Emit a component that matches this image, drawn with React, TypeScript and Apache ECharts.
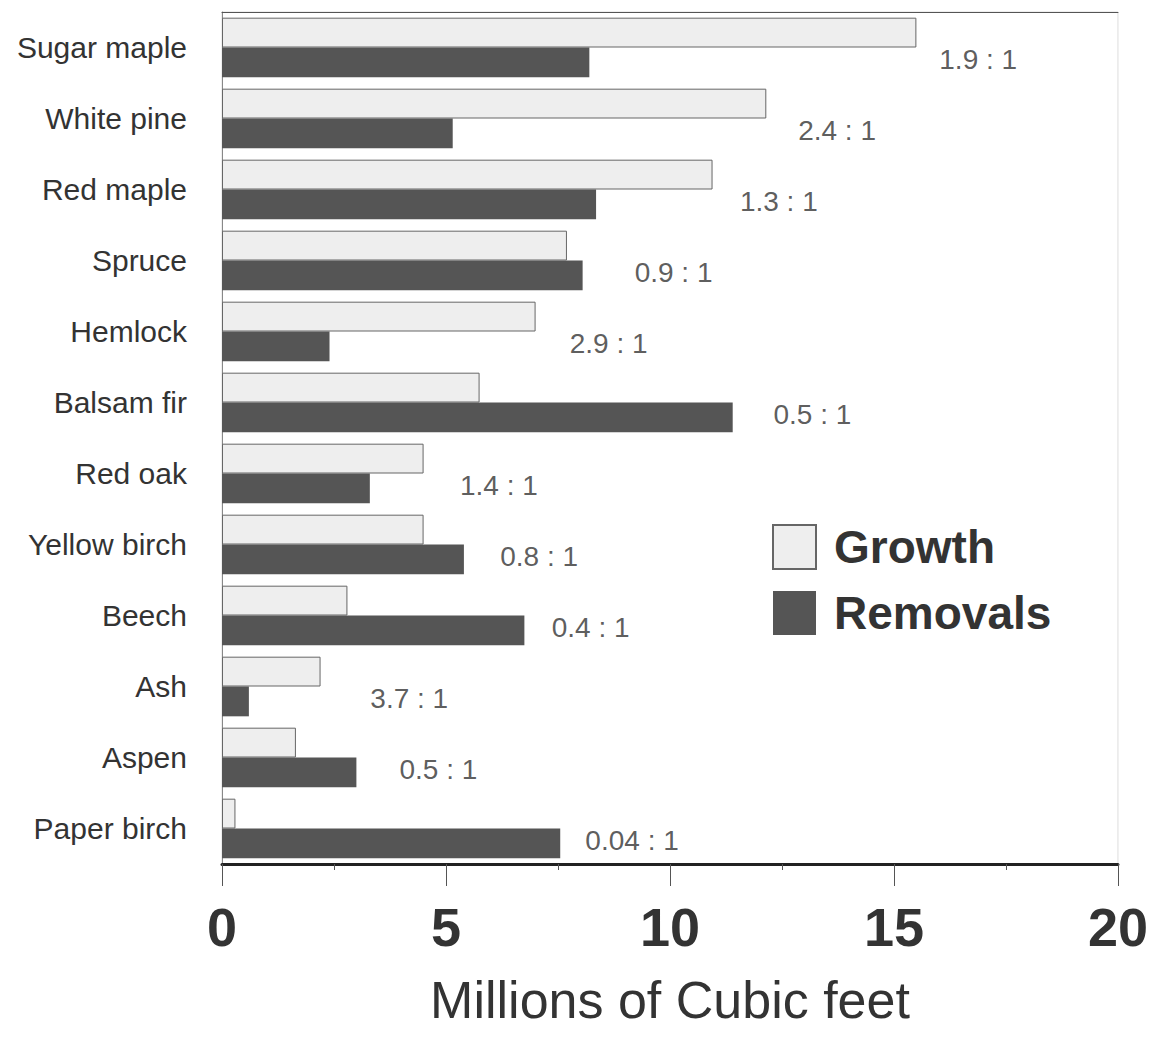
import React, { useEffect, useRef } from "react";
import * as echarts from "echarts";

const species = [
  "Sugar maple",
  "White pine",
  "Red maple",
  "Spruce",
  "Hemlock",
  "Balsam fir",
  "Red oak",
  "Yellow birch",
  "Beech",
  "Ash",
  "Aspen",
  "Paper birch",
];
const growth = [15.5, 12.15, 10.95, 7.7, 7.0, 5.75, 4.5, 4.5, 2.8, 2.2, 1.65, 0.3];
const removals = [8.2, 5.15, 8.35, 8.05, 2.4, 11.4, 3.3, 5.4, 6.75, 0.6, 3.0, 7.55];
const ratioLabels = [
  "1.9 : 1",
  "2.4 : 1",
  "1.3 : 1",
  "0.9 : 1",
  "2.9 : 1",
  "0.5 : 1",
  "1.4 : 1",
  "0.8 : 1",
  "0.4 : 1",
  "3.7 : 1",
  "0.5 : 1",
  "0.04 : 1",
];
// where each ratio annotation starts, in axis units
const ratioLabelAt = [16.0, 12.85, 11.55, 9.2, 7.75, 12.3, 5.3, 6.2, 7.35, 3.3, 3.95, 8.1];
const xTicks = [0, 5, 10, 15, 20];

const FONT = "'Liberation Sans', Arial, Helvetica, sans-serif";

export default function App() {
  const ref = useRef<HTMLDivElement>(null);
  useEffect(() => {
    if (!ref.current) return;
    const chart = echarts.init(ref.current, null, { renderer: "svg" });
    chart.setOption({
      animation: false,
      backgroundColor: "#ffffff",
      textStyle: { fontFamily: FONT },
      grid: {
        left: 222,
        right: 33,
        top: 12,
        bottom: 175,
        show: true,
        borderColor: "#dddddd",
        borderWidth: 1,
      },
      legend: {
        orient: "vertical",
        left: 772,
        top: 524,
        padding: 0,
        icon: "rect",
        itemWidth: 43,
        itemHeight: 44,
        itemGap: 20,
        data: ["Growth", "Removals"],
        textStyle: {
          fontSize: 46,
          fontWeight: "bold",
          color: "#333333",
          fontFamily: FONT,
          padding: [0, 0, 0, 13],
        },
      },
      xAxis: [
        {
          type: "value",
          min: 0,
          max: 20,
          interval: 5,
          position: "bottom",
          name: "Millions of Cubic feet",
          nameLocation: "middle",
          nameGap: 110,
          nameTextStyle: { fontSize: 52, color: "#333333", fontFamily: FONT },
          axisLine: { show: true, lineStyle: { color: "#222222", width: 3 } },
          axisTick: { show: true, length: 22, lineStyle: { color: "#555555", width: 1 } },
          minorTick: { show: true, splitNumber: 2, length: 6, lineStyle: { color: "#555555", width: 1 } },
          splitLine: { show: false },
          axisLabel: {
            margin: 36,
            fontSize: 54,
            fontWeight: "bold",
            color: "#333333",
            fontFamily: FONT,
            formatter: (v: number) => (xTicks.includes(v) ? String(v) : ""),
          },
        },
        {
          type: "value",
          min: 0,
          max: 20,
          position: "top",
          axisLine: { show: true, lineStyle: { color: "#555555", width: 1 } },
          axisTick: { show: false },
          axisLabel: { show: false },
          splitLine: { show: false },
        },
      ],
      yAxis: {
        type: "category",
        data: species,
        inverse: true,
        axisLine: { show: true, lineStyle: { color: "#888888", width: 1 } },
        axisTick: { show: false },
        axisLabel: { fontSize: 30, color: "#333333", margin: 35, fontFamily: FONT },
      },
      series: [
        {
          name: "Growth",
          type: "bar",
          data: growth,
          barGap: "0%",
          barCategoryGap: "16%",
          itemStyle: { color: "#eeeeee", borderColor: "#666666", borderWidth: 1 },
        },
        {
          name: "Removals",
          type: "bar",
          data: removals,
          itemStyle: { color: "#555555" },
        },
        {
          name: "ratio",
          type: "scatter",
          symbolSize: 1,
          itemStyle: { color: "rgba(0,0,0,0)" },
          data: ratioLabelAt.map((x, i) => [x, i]),
          label: {
            show: true,
            position: "right",
            distance: 0,
            offset: [0, 12],
            fontSize: 28,
            color: "#333333",
            fontFamily: FONT,
            formatter: (p: any) => ratioLabels[p.dataIndex],
          },
        },
      ],
    });
    return () => chart.dispose();
  }, []);
  return (
    <div
      ref={ref}
      style={{ position: "fixed", left: 0, top: 0, width: 1151, height: 1039 }}
    />
  );
}
